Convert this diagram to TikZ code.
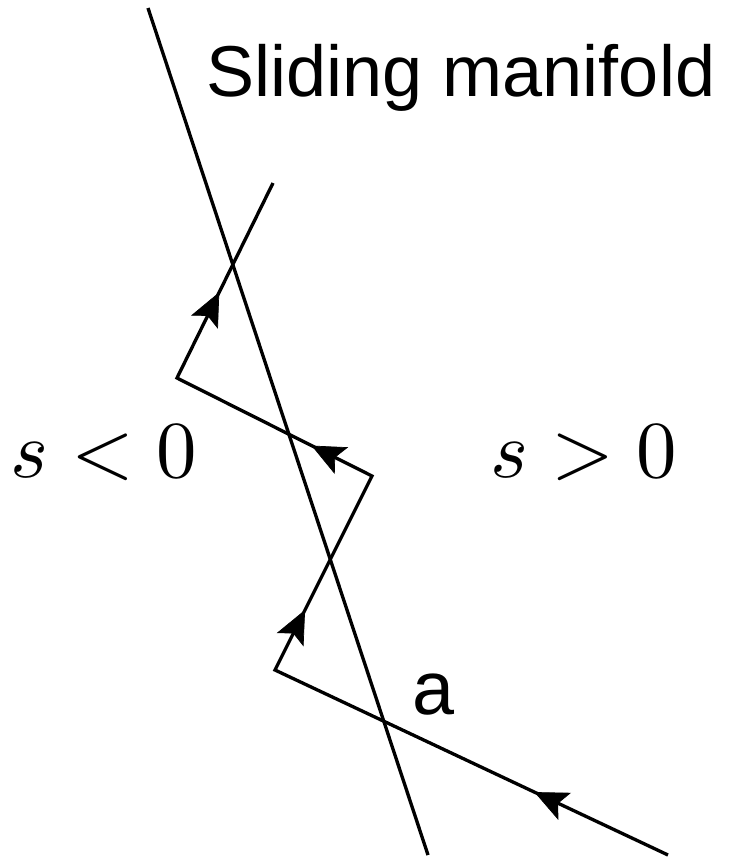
\documentclass[tikz,border=0pt]{standalone}
\usepackage{fontspec}
\newfontfamily\arialfont{Liberation Sans}
\usepackage{tikz}
\usetikzlibrary{arrows.meta,decorations.markings}

\begin{document}
\begin{tikzpicture}[
  x=0.02cm,y=-0.02cm,
  line/.style={line width=1.9pt,line join=miter},
  midtip/.style={postaction={decorate},decoration={markings,
    mark=at position #1 with {\arrow{Stealth[length=19pt,width=17pt,inset=4pt]}}}},
  word/.style={anchor=base,inner sep=0pt,font=\arialfont\fontsize{41}{49}\selectfont},
  region/.style={anchor=base,inner sep=0pt,font=\normalsize}
]
  \useasboundingbox (0,0) rectangle (734,859);

  % sliding manifold
  \coordinate (mtop) at (148,8);
  \coordinate (mbot) at (428,855);
  \draw[line] (mtop) -- (mbot);

  % trajectory
  \coordinate (p0) at (668,855);
  \coordinate (p1) at (275,670);
  \coordinate (p2) at (372,476);
  \coordinate (p3) at (177,378);
  \coordinate (p4) at (273,183);
  \draw[line] (p0) -- (p1) -- (p2) -- (p3) -- (p4);
  \path[midtip=0.34] (p0) -- (p1);
  \path[midtip=0.31] (p1) -- (p2);
  \path[midtip=0.31] (p2) -- (p3);
  \path[midtip=0.44] (p3) -- (p4);

  % labels
  \node[word] (title) at (461,96) {Sliding manifold};
  \node[word,font=\arialfont\fontsize{43}{50}\selectfont] (pa) at (434,714) {a};
  \node[region] (neg) at (104,477) {\scalebox{4.6}{$s<0$}};
  \node[region] (pos) at (584,477) {\scalebox{4.6}{$s>0$}};
\end{tikzpicture}
\end{document}
